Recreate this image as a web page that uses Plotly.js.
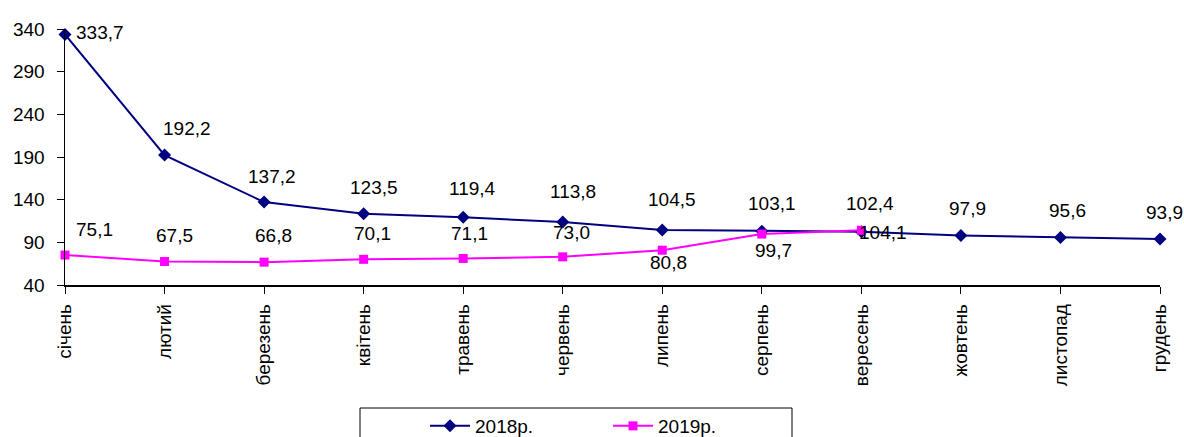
<!DOCTYPE html>
<html><head><meta charset="utf-8">
<script src="https://cdn.plot.ly/plotly-3.0.1.min.js"></script>
<style>html,body{margin:0;padding:0;background:#fff}#c{width:1184px;height:437px}</style>
</head><body><div id="c"></div>
<script>
var months = ["січень","лютий","березень","квітень","травень","червень","липень","серпень","вересень","жовтень","листопад","грудень"];
var v2018 = [333.7,192.2,137.2,123.5,119.4,113.8,104.5,103.1,102.4,97.9,95.6,93.9];
var v2019 = [75.1,67.5,66.8,70.1,71.1,73.0,80.8,99.7,104.1];
var name2018 = "2018р.";
var name2019 = "2019р.";
var yTicks = [40,90,140,190,240,290,340];

// label offsets (px) for data labels
var off2018 = [[35,2],[22,27],[8,26],[10,26],[9,29],[10,31],[10,30],[10,28],[9,28],[7,27],[7,27],[4,27]];
var off2019 = [[29,26],[10,26],[9,27],[9,26],[6,25],[9,24],[6,-12],[12,-16],[22,-2]];

var FS=19;
function fmt(v){return v.toFixed(1).replace('.',',');}
var ann = [];
v2018.forEach(function(v,i){ann.push({x:i,y:v,xref:'x',yref:'y',text:fmt(v),showarrow:false,xshift:off2018[i][0],yshift:off2018[i][1],font:{family:'Liberation Sans, Arial',size:FS,color:'#000'}});});
v2019.forEach(function(v,i){ann.push({x:i,y:v,xref:'x',yref:'y',text:fmt(v),showarrow:false,xshift:off2019[i][0],yshift:off2019[i][1],font:{family:'Liberation Sans, Arial',size:FS,color:'#000'}});});

var W=1184,H=437;
var L=65,R=1160,T=29,B=285;
var pw=R-L, ph=B-T;
function px(x){return (x-L)/pw;}
function py(y){return (B-y)/ph;}

var traces = [
 {x:months.map(function(_,i){return i;}),y:v2018,name:name2018,type:'scatter',mode:'lines+markers',
  line:{color:'#000080',width:2},marker:{symbol:'diamond',size:10,color:'#000080'},cliponaxis:false},
 {x:v2019.map(function(_,i){return i;}),y:v2019,name:name2019,type:'scatter',mode:'lines+markers',
  line:{color:'#FF00FF',width:2},marker:{symbol:'square',size:9,color:'#FF00FF'},cliponaxis:false}
];
var layout = {
 width:W,height:H,paper_bgcolor:'#fff',plot_bgcolor:'#fff',
 margin:{l:L,r:W-R,t:T,b:H-B,pad:0,autoexpand:false},
 font:{family:'Liberation Sans, Arial',size:FS,color:'#000'},
 xaxis:{range:[0,11],tickvals:months.map(function(_,i){return i;}),ticktext:months,tickangle:-90,automargin:false,
   showline:true,linecolor:'#000',linewidth:1.5,ticks:'outside',ticklen:7,tickcolor:'#000',showgrid:false,zeroline:false,
   tickfont:{size:FS},ticklabelstandoff:3},
 yaxis:{range:[40,340],tickvals:yTicks,showline:true,linecolor:'#000',linewidth:1.5,ticks:'outside',ticklen:7,tickcolor:'#000',automargin:false,
   showgrid:false,zeroline:false,tickfont:{size:FS},ticklabelstandoff:8},
 showlegend:true,
 legend:{orientation:'h',x:px(425),xanchor:'left',yref:'container',y:1-407/H,yanchor:'top',entrywidth:128,entrywidthmode:'pixels',
   font:{size:FS},bgcolor:'rgba(0,0,0,0)',itemwidth:40},
 shapes:[{type:'rect',xref:'paper',yref:'paper',x0:px(360),x1:px(792),y0:py(408),y1:py(450),line:{color:'#000',width:1}}],
 annotations:ann
};
Plotly.newPlot('c',traces,layout,{staticPlot:true});
</script></body></html>
